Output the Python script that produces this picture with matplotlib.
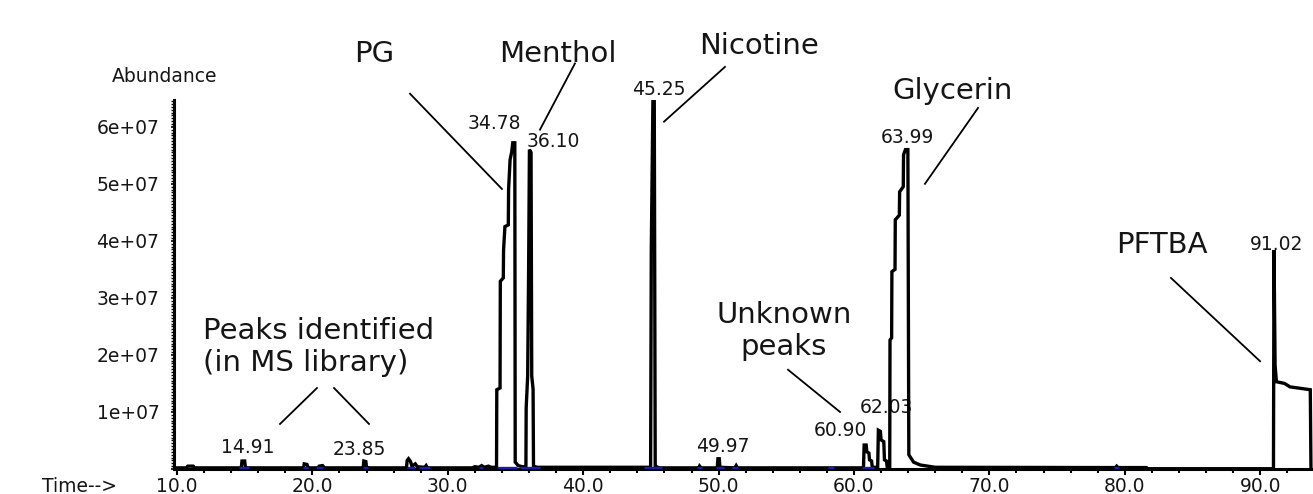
import numpy as np
import matplotlib.pyplot as plt
from matplotlib.ticker import MultipleLocator, FuncFormatter

# TIC trace: retention time (min) and abundance (millions of counts)
rt = [9.8, 10.7, 10.8, 11.2, 11.3, 14.75, 14.8, 15.0, 15.05, 15.2,
      19.35, 19.4, 19.6, 19.7, 20.45, 20.5, 20.75, 20.9,
      23.75, 23.8, 23.95, 24.0, 24.2,
      26.95, 27.0, 27.1, 27.25, 27.35, 27.6, 27.75, 28.3, 28.4, 28.5,
      31.8, 32.0, 32.3, 32.5, 32.7, 33.0, 33.2,
      33.6, 33.62, 33.86, 33.88, 34.1, 34.12, 34.22, 34.47, 34.49, 34.6, 34.72, 34.8, 34.95,
      34.98, 35.2, 35.5,
      35.77, 35.79, 35.9, 35.97, 36.03, 36.15, 36.2, 36.3, 36.33, 36.6,
      44.98, 45.03, 45.15, 45.25, 45.32, 45.6,
      48.55, 48.6, 48.7, 49.9, 49.95, 50.05, 50.1, 51.2, 51.3, 51.4,
      60.7, 60.75, 60.9, 60.95, 61.1, 61.15, 61.3, 61.35,
      61.75, 61.8, 61.95, 62.0, 62.2, 62.25, 62.4, 62.45,
      62.64, 62.66, 62.78, 62.8, 63.03, 63.05, 63.35, 63.37, 63.64, 63.66, 63.8, 63.98,
      64.05, 64.4, 64.9, 66.0,
      79.3, 79.4, 79.5, 81.6, 81.7,
      90.98, 91.02, 91.1, 91.2, 91.8, 92.2, 93.7, 93.75]
abund_m = [0.2, 0.2, 0.5, 0.5, 0.2, 0.2, 1.4, 1.4, 0.3, 0.2,
           0.2, 0.9, 0.8, 0.2, 0.2, 0.5, 0.6, 0.2,
           0.2, 1.4, 1.3, 0.3, 0.2,
           0.2, 1.5, 1.8, 1.3, 0.5, 0.9, 0.4, 0.3, 0.6, 0.2,
           0.2, 0.4, 0.3, 0.6, 0.3, 0.5, 0.3,
           0.3, 13.9, 14.2, 32.9, 33.5, 38.4, 42.5, 42.8, 49.0, 54.2, 55.6, 57.2, 57.2,
           1.2, 0.6, 0.4,
           0.4, 10.7, 16.3, 35.0, 56.0, 55.5, 16.3, 14.0, 0.5, 0.3,
           0.3, 38.4, 64.6, 64.6, 0.5, 0.2,
           0.2, 0.5, 0.2, 0.2, 1.8, 1.8, 0.3, 0.2, 0.6, 0.2,
           0.2, 4.2, 4.2, 3.0, 2.8, 1.6, 1.4, 0.3,
           0.3, 6.8, 6.6, 5.1, 4.8, 1.6, 1.4, 0.4,
           0.4, 22.6, 23.0, 34.6, 35.0, 43.7, 44.5, 48.6, 49.5, 55.1, 56.0, 56.0,
           2.5, 1.2, 0.7, 0.3,
           0.25, 0.5, 0.25, 0.25, 0.05,
           0.05, 38.4, 18.2, 15.3, 15.0, 14.4, 13.9, 0.0]

# integration events marked on the baseline (min)
integ_start = [14.6, 19.3, 20.3, 23.75, 27.0, 27.9, 32.3, 33.6, 35.35, 44.5, 48.4, 49.8, 51.0, 58.1, 60.6, 79.2]
integ_end = [15.3, 19.7, 20.8, 24.1, 27.6, 28.7, 32.6, 35.1, 36.8, 45.8, 48.8, 50.4, 51.4, 58.5, 61.5, 79.6]

# retention-time labels
rt_labels = ["14.91", "23.85", "34.78", "36.10", "45.25", "49.97", "60.90", "62.03", "63.99", "91.02"]
# compound call-outs
callouts = ["PG", "Menthol", "Nicotine", "Glycerin", "PFTBA", "Unknown\npeaks", "Peaks identified\n(in MS library)"]

# layout (data coords: min, abundance in 1e7)
rt_label_pos = [(15.21, 0.37), (23.44, 0.35), (33.41, 6.05), (37.77, 5.75), (45.6, 6.65),
                (50.33, 0.40), (58.97, 0.67), (62.36, 1.07), (63.95, 5.81), (91.24, 3.93)]
callout_pos = [(24.55, 7.28, "center"), (38.10, 7.28, "center"), (52.98, 7.42, "center"),
               (67.31, 6.62, "center"), (82.75, 3.93, "center"), (54.83, 2.42, "center"),
               (11.92, 2.14, "left")]
leaders = [((17.61, 0.79), (20.34, 1.42)), ((21.6, 1.42), (24.18, 0.79)),
           ((27.21, 6.58), (34.0, 4.91)), ((39.39, 7.11), (36.81, 5.95)),
           ((50.47, 7.05), (45.97, 6.09)), ((69.16, 6.33), (65.24, 5.0)),
           ((55.13, 1.74), (58.97, 1.0)), ((83.41, 3.35), (89.99, 1.89))]

plt.rcParams['font.family'] = ['DejaVu Sans']
W, H = 1313, 494
fig = plt.figure(figsize=(W / 100, H / 100), dpi=100)
ax = fig.add_axes([174 / W, 25 / H, 1 - 174 / W, 369 / H])

ink = '#151515'
ax.plot(rt, np.array(abund_m) * 1e6, color='black', lw=2.4, zorder=4, solid_joinstyle='miter')
ax.hlines(np.full(len(integ_start), 2.5e5), integ_start, integ_end, colors='#1c1ca8', lw=2.4, zorder=5)

ax.set_xlim(9.78, 93.9)
ax.set_ylim(0, 6.47e7)
for s in ['top', 'right']:
    ax.spines[s].set_visible(False)
for s in ['left', 'bottom']:
    ax.spines[s].set_linewidth(2.2)
    ax.spines[s].set_color('black')

ax.xaxis.set_major_locator(MultipleLocator(10))
ax.xaxis.set_minor_locator(MultipleLocator(2))
ax.xaxis.set_major_formatter(FuncFormatter(lambda v, p: f"{v:.1f}"))
ax.yaxis.set_major_locator(MultipleLocator(1e7))
ax.yaxis.set_minor_locator(MultipleLocator(5e5))
ax.yaxis.set_major_formatter(FuncFormatter(lambda v, p: "" if v == 0 else f"{v:.0e}"))
ax.tick_params(axis='x', which='major', length=4, width=1.5, pad=1.5, labelsize=13.5, labelcolor=ink)
ax.tick_params(axis='x', which='minor', length=3, width=1.5)
ax.tick_params(axis='y', which='major', length=2.5, width=1.2, pad=8, labelsize=13.5, labelcolor=ink)
ax.tick_params(axis='y', which='minor', length=2.5, width=1.0)

for lab, (x, y) in zip(rt_labels, rt_label_pos):
    ax.text(x, y * 1e7, lab, ha='center', va='center', fontsize=13.5, color=ink)

for lab, (x, y, ha) in zip(callouts, callout_pos):
    ax.text(x, y * 1e7, lab, ha=ha, va='center', fontsize=21, color=ink,
            multialignment=ha, linespacing=1.15)

for (x0, y0), (x1, y1) in leaders:
    ax.plot([x0, x1], [y0 * 1e7, y1 * 1e7], color='black', lw=1.3, clip_on=False)

fig.text(42 / W, 1 - 477 / H, "Time-->", ha='left', va='top', fontsize=13.5, color=ink)
fig.text(165 / W, 1 - 76 / H, "Abundance", ha='center', va='center', fontsize=13.5, color=ink)

fig.savefig("out.png", dpi=100)
